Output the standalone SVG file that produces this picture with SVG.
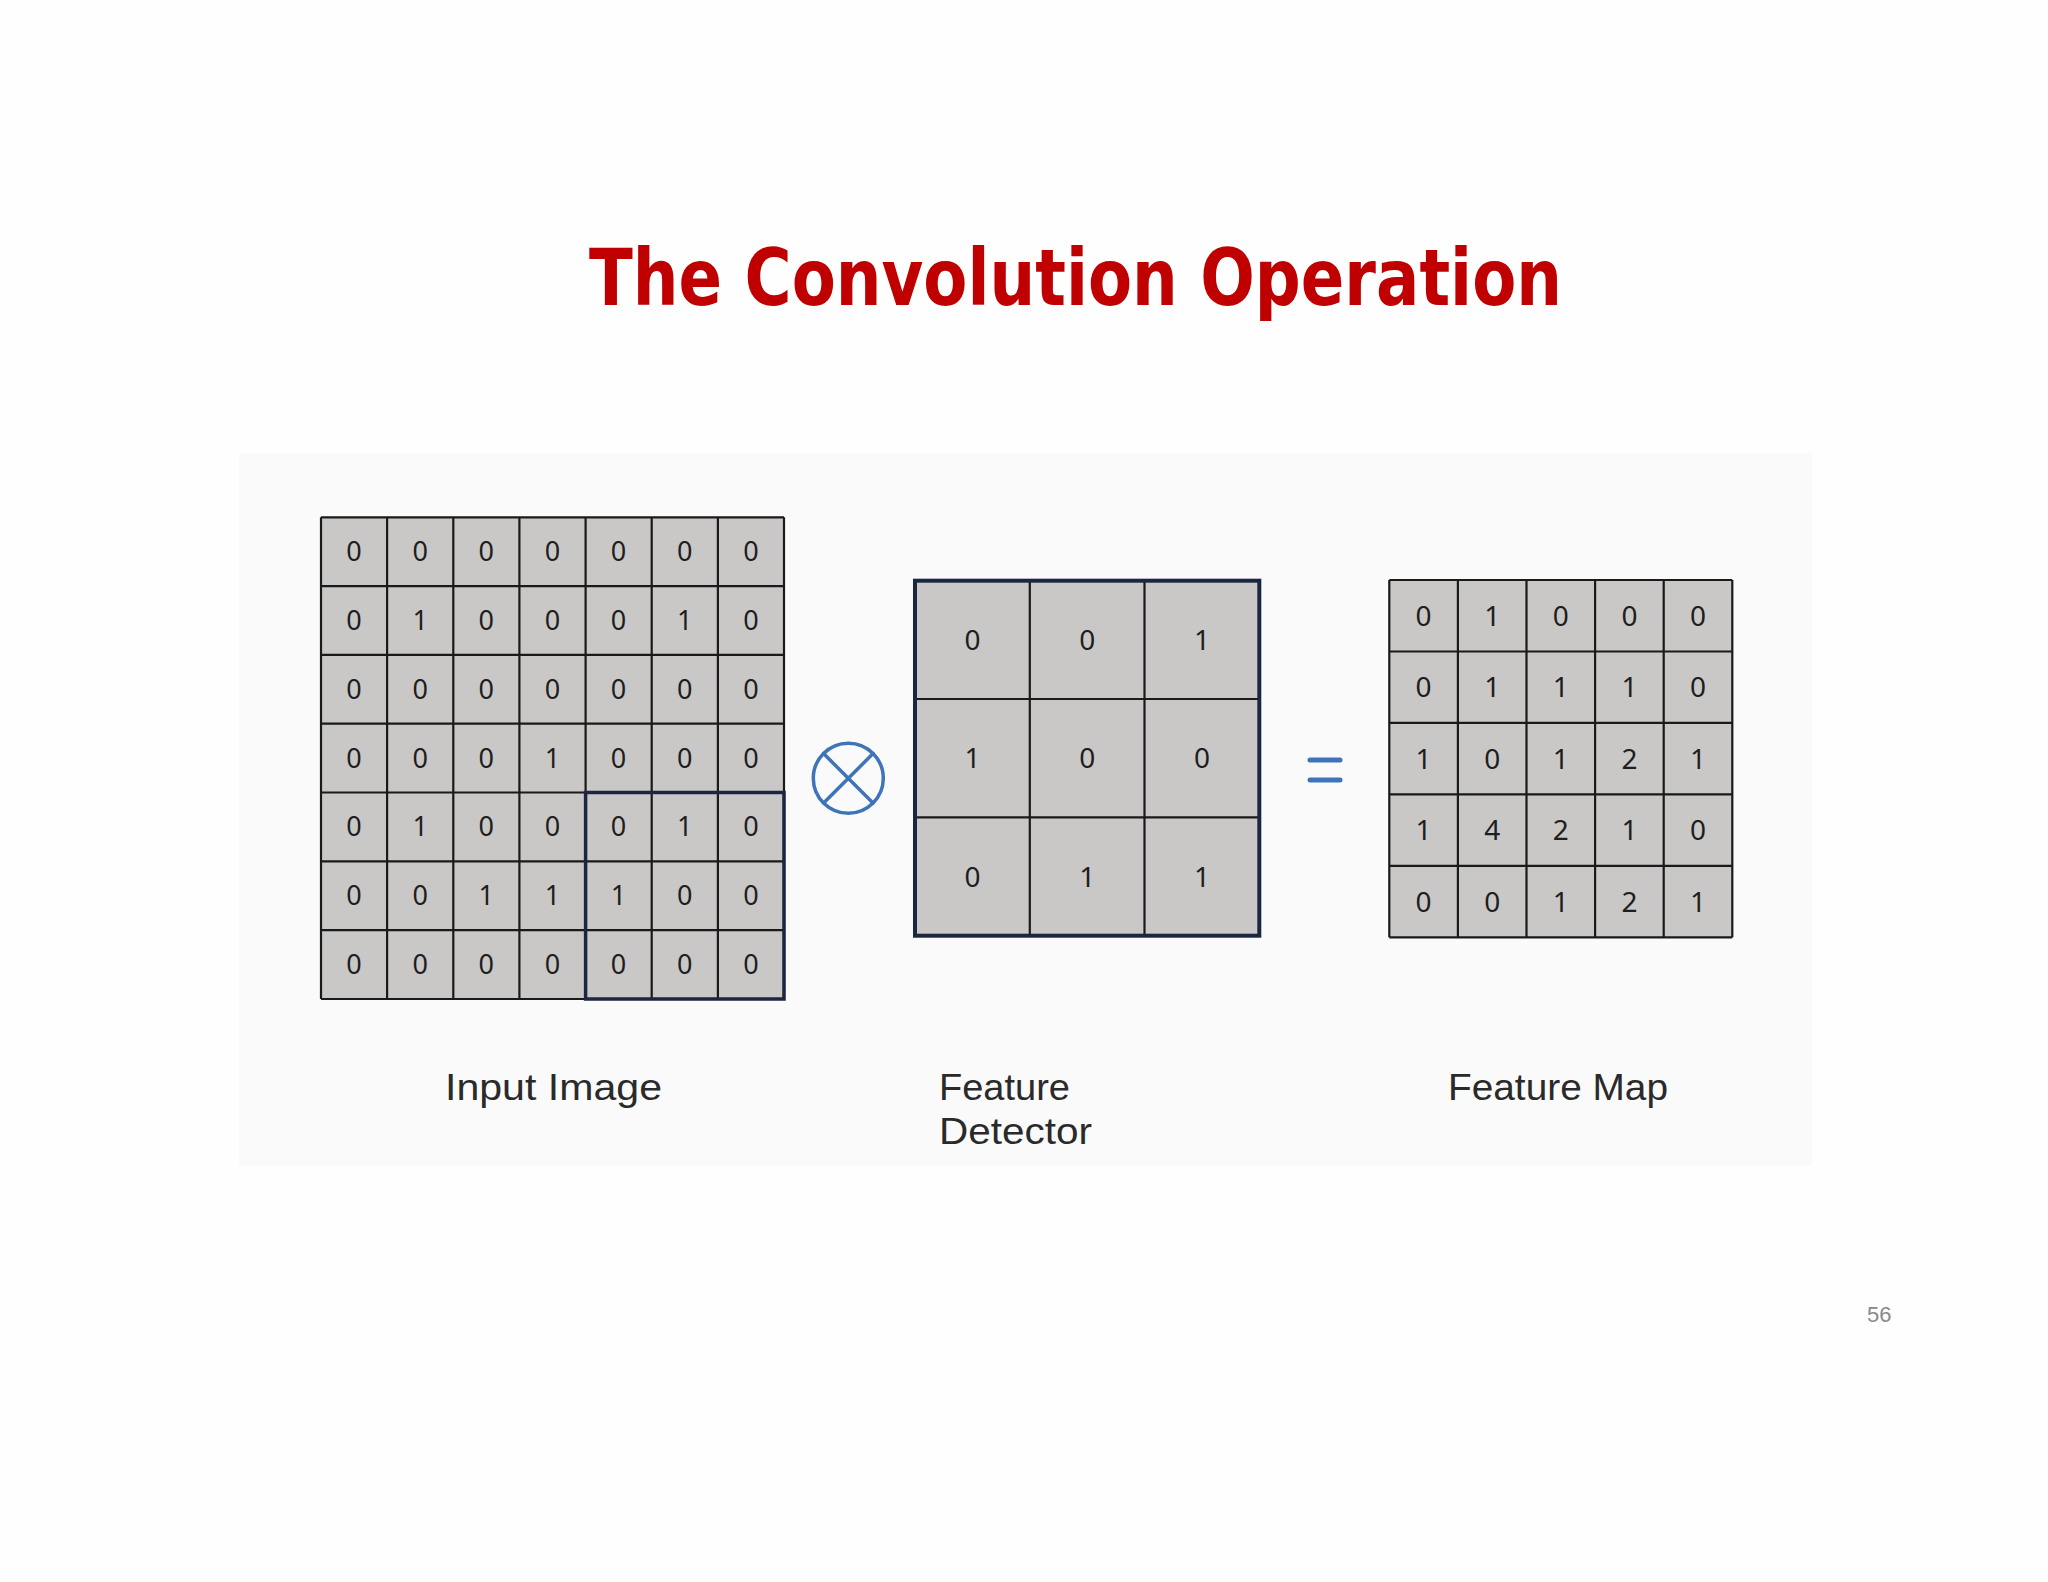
<svg xmlns="http://www.w3.org/2000/svg" width="2048" height="1582" viewBox="0 0 2048 1582">
  <style>
    .cell { fill: #cac8c7; }
    .grid { stroke: #1a1a1a; stroke-width: 2.2; fill: none; }
    .num { font-family: "Noto Sans", "Open Sans", sans-serif; fill: #1e1e1e; text-anchor: middle; }
    .n26 { font-size: 27px; }
    .n28 { font-size: 28px; }
    .label { font-family: "Liberation Sans", "Noto Sans", sans-serif; font-size: 37px; fill: #2a2a2a; }
    .title { font-family: "DejaVu Sans", "Liberation Sans", sans-serif; font-weight: bold; font-size: 78px; fill: #c00000; }
    .op { stroke: #3f74b8; fill: none; stroke-linecap: round; }
  </style>

  <rect x="0" y="0" width="2048" height="1582" fill="#fefefe"/>
  <rect x="239" y="453" width="1573" height="713" fill="#fafafb"/>

  <g id="title">
    <text class="title" x="589" y="305" textLength="973" lengthAdjust="spacingAndGlyphs">The Convolution Operation</text>
  </g>

  <g id="input-image">
    <rect class="cell" x="321" y="517.3" width="463" height="481.7"/>
    <g class="grid">
      <path d="M321 517.3V999M387.1 517.3V999M453.3 517.3V999M519.4 517.3V999M585.6 517.3V999M651.7 517.3V999M717.9 517.3V999M784 517.3V999"/>
      <path d="M321 517.3H784M321 586.1H784M321 654.9H784M321 723.7H784M321 792.5H784M321 861.4H784M321 930.2H784M321 999H784"/>
    </g>
    <rect x="585.6" y="792.5" width="198.4" height="206.5" fill="none" stroke="#1b2640" stroke-width="3.5"/>
    <g class="num n26">
      <text x="354.1" y="561.2">0</text><text x="420.2" y="561.2">0</text><text x="486.3" y="561.2">0</text><text x="552.5" y="561.2">0</text><text x="618.6" y="561.2">0</text><text x="684.8" y="561.2">0</text><text x="750.9" y="561.2">0</text>
      <text x="354.1" y="630">0</text><text x="420.2" y="630">1</text><text x="486.3" y="630">0</text><text x="552.5" y="630">0</text><text x="618.6" y="630">0</text><text x="684.8" y="630">1</text><text x="750.9" y="630">0</text>
      <text x="354.1" y="698.8">0</text><text x="420.2" y="698.8">0</text><text x="486.3" y="698.8">0</text><text x="552.5" y="698.8">0</text><text x="618.6" y="698.8">0</text><text x="684.8" y="698.8">0</text><text x="750.9" y="698.8">0</text>
      <text x="354.1" y="767.6">0</text><text x="420.2" y="767.6">0</text><text x="486.3" y="767.6">0</text><text x="552.5" y="767.6">1</text><text x="618.6" y="767.6">0</text><text x="684.8" y="767.6">0</text><text x="750.9" y="767.6">0</text>
      <text x="354.1" y="836.4">0</text><text x="420.2" y="836.4">1</text><text x="486.3" y="836.4">0</text><text x="552.5" y="836.4">0</text><text x="618.6" y="836.4">0</text><text x="684.8" y="836.4">1</text><text x="750.9" y="836.4">0</text>
      <text x="354.1" y="905.3">0</text><text x="420.2" y="905.3">0</text><text x="486.3" y="905.3">1</text><text x="552.5" y="905.3">1</text><text x="618.6" y="905.3">1</text><text x="684.8" y="905.3">0</text><text x="750.9" y="905.3">0</text>
      <text x="354.1" y="974.1">0</text><text x="420.2" y="974.1">0</text><text x="486.3" y="974.1">0</text><text x="552.5" y="974.1">0</text><text x="618.6" y="974.1">0</text><text x="684.8" y="974.1">0</text><text x="750.9" y="974.1">0</text>
    </g>
  </g>

  <g id="convolve-operator">
    <circle class="op" cx="848.3" cy="778.3" r="35" stroke-width="3.5"/>
    <path class="op" stroke-width="3.5" d="M823.6 753.6L873 803M873 753.6L823.6 803"/>
  </g>

  <g id="feature-detector">
    <rect class="cell" x="915" y="580.7" width="344.3" height="355"/>
    <g class="grid">
      <path d="M1029.8 580.7V935.7M1144.5 580.7V935.7M915 699H1259.3M915 817.3H1259.3"/>
    </g>
    <rect x="915" y="580.7" width="344.3" height="355" fill="none" stroke="#1b2640" stroke-width="4"/>
    <g class="num n28">
      <text x="972.4" y="649.8">0</text><text x="1087.2" y="649.8">0</text><text x="1201.9" y="649.8">1</text>
      <text x="972.4" y="768.2">1</text><text x="1087.2" y="768.2">0</text><text x="1201.9" y="768.2">0</text>
      <text x="972.4" y="886.5">0</text><text x="1087.2" y="886.5">1</text><text x="1201.9" y="886.5">1</text>
    </g>
  </g>

  <g id="equals-operator">
    <path class="op" stroke-width="5" stroke="#4a7bbf" d="M1310 760H1340M1310 780H1340"/>
  </g>

  <g id="feature-map">
    <rect class="cell" x="1389.3" y="580" width="343" height="357.3"/>
    <g class="grid">
      <path d="M1389.3 580V937.3M1457.9 580V937.3M1526.5 580V937.3M1595.1 580V937.3M1663.7 580V937.3M1732.3 580V937.3"/>
      <path d="M1389.3 580H1732.3M1389.3 651.5H1732.3M1389.3 722.9H1732.3M1389.3 794.4H1732.3M1389.3 865.8H1732.3M1389.3 937.3H1732.3"/>
    </g>
    <g class="num n28">
      <text x="1423.6" y="625.7">0</text><text x="1492.2" y="625.7">1</text><text x="1560.8" y="625.7">0</text><text x="1629.4" y="625.7">0</text><text x="1698" y="625.7">0</text>
      <text x="1423.6" y="697.2">0</text><text x="1492.2" y="697.2">1</text><text x="1560.8" y="697.2">1</text><text x="1629.4" y="697.2">1</text><text x="1698" y="697.2">0</text>
      <text x="1423.6" y="768.7">1</text><text x="1492.2" y="768.7">0</text><text x="1560.8" y="768.7">1</text><text x="1629.4" y="768.7">2</text><text x="1698" y="768.7">1</text>
      <text x="1423.6" y="840.1">1</text><text x="1492.2" y="840.1">4</text><text x="1560.8" y="840.1">2</text><text x="1629.4" y="840.1">1</text><text x="1698" y="840.1">0</text>
      <text x="1423.6" y="911.6">0</text><text x="1492.2" y="911.6">0</text><text x="1560.8" y="911.6">1</text><text x="1629.4" y="911.6">2</text><text x="1698" y="911.6">1</text>
    </g>
  </g>

  <g id="labels">
    <text class="label" x="445" y="1100" textLength="217" lengthAdjust="spacingAndGlyphs">Input Image</text>
    <text class="label" x="939" y="1100" textLength="131" lengthAdjust="spacingAndGlyphs">Feature</text>
    <text class="label" x="939" y="1144" textLength="153" lengthAdjust="spacingAndGlyphs">Detector</text>
    <text class="label" x="1448" y="1100" textLength="220" lengthAdjust="spacingAndGlyphs">Feature Map</text>
  </g>

  <g id="connectors"/>

  <g id="page-number">
    <text x="1867" y="1321.5" font-family="'Liberation Sans', 'Open Sans', sans-serif" font-size="22" fill="#8a8a8a">56</text>
  </g>
</svg>
